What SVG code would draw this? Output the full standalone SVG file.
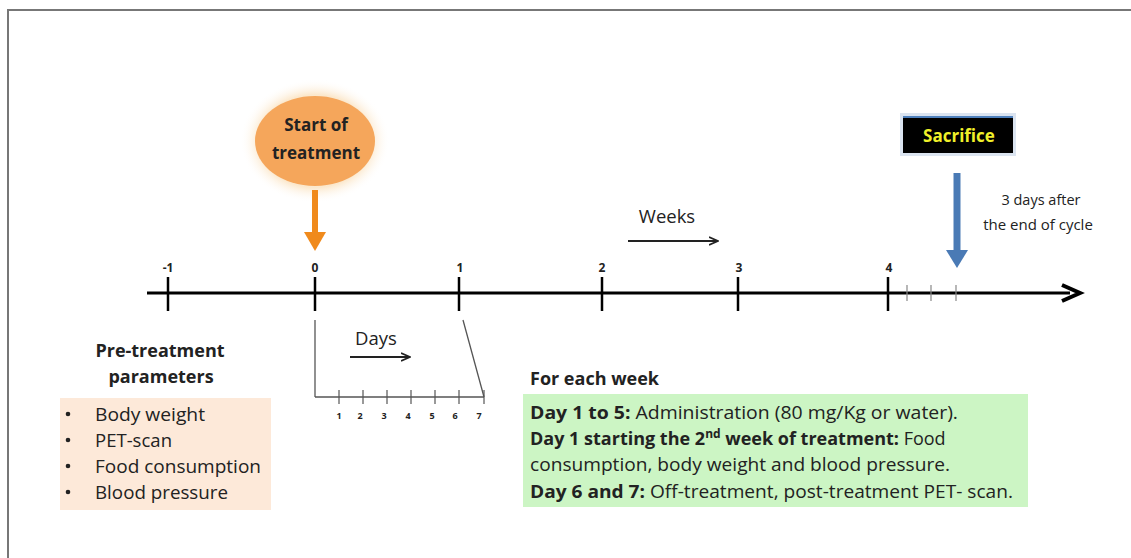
<svg xmlns="http://www.w3.org/2000/svg" width="1131" height="558" viewBox="0 0 1131 558">
<defs>
<style>
text{font-family:"Open Sans","Liberation Sans",sans-serif;fill:#222}
.b{font-weight:bold}
.n{font-size:12px;font-weight:bold}
.d{font-size:9px;font-weight:bold}
.ax{stroke:#000;stroke-width:3;fill:none}
.tk{stroke:#000;stroke-width:2.5}
.st{stroke:#888;stroke-width:1.2}
.thin{stroke:#555;stroke-width:1.3;fill:none}
</style>
<radialGradient id="glow" cx="0.5" cy="0.5" r="0.5">
<stop offset="0.75" stop-color="#fbe6c8" stop-opacity="0.9"/>
<stop offset="1" stop-color="#ffffff" stop-opacity="0"/>
</radialGradient>
<marker id="ah" markerWidth="10" markerHeight="10" refX="8" refY="5" orient="auto" markerUnits="userSpaceOnUse">
<path d="M0,1 L9,5 L0,9" fill="none" stroke="#222" stroke-width="1.8"/>
</marker>
</defs>
<rect width="1131" height="558" fill="#fff"/>
<path d="M8,558 V10 H1131" fill="none" stroke="#777" stroke-width="2"/>

<g id="start-of-treatment">
<ellipse cx="315" cy="141" rx="75" ry="62" fill="url(#glow)"/>
<ellipse cx="315" cy="141" rx="60" ry="45" fill="#f5a65b"/>
<text x="316" y="131" text-anchor="middle" class="b" font-size="17">Start of</text>
<text x="316" y="159" text-anchor="middle" class="b" font-size="17">treatment</text>
</g>

<g id="sacrifice">
<rect x="900" y="113" width="116" height="43" fill="#dbe4f0"/>
<rect x="903" y="117" width="110" height="36" fill="#000"/>
<line x1="903" y1="117" x2="1013" y2="117" stroke="#4f81bd" stroke-width="2"/>
<text x="959" y="142" text-anchor="middle" class="b" font-size="17" style="fill:#f0f02a">Sacrifice</text>
</g>

<g id="sacrifice-note">
<text x="1041" y="205" text-anchor="middle" font-size="14.5">3 days after</text>
<text x="1038" y="230" text-anchor="middle" font-size="15">the end of cycle</text>
</g>

<g id="timeline">
<line x1="147" y1="293" x2="1070" y2="293" class="ax"/>
<path d="M1062,285 L1080,293 L1062,301" fill="none" stroke="#000" stroke-width="4" stroke-linejoin="miter"/>
<line x1="168" y1="277" x2="168" y2="311" class="tk"/>
<line x1="315" y1="277" x2="315" y2="311" class="tk"/>
<line x1="459" y1="277" x2="459" y2="311" class="tk"/>
<line x1="602" y1="277" x2="602" y2="311" class="tk"/>
<line x1="738" y1="277" x2="738" y2="311" class="tk"/>
<line x1="888" y1="277" x2="888" y2="311" class="tk"/>
<line x1="907" y1="285" x2="907" y2="301" class="st"/>
<line x1="931" y1="285" x2="931" y2="301" class="st"/>
<line x1="956" y1="285" x2="956" y2="301" class="st"/>
<text x="168" y="272" text-anchor="middle" class="n">-1</text>
<text x="315" y="272" text-anchor="middle" class="n">0</text>
<text x="460" y="272" text-anchor="middle" class="n">1</text>
<text x="602" y="272" text-anchor="middle" class="n">2</text>
<text x="739" y="272" text-anchor="middle" class="n">3</text>
<text x="889" y="272" text-anchor="middle" class="n">4</text>
<text x="667" y="223" text-anchor="middle" font-size="18.5">Weeks</text>
</g>

<g id="days-detail">
<line x1="315" y1="320" x2="315" y2="397" class="thin"/>
<line x1="463" y1="320" x2="484" y2="397" class="thin"/>
<line x1="315" y1="397" x2="484" y2="397" class="thin"/>
<g stroke="#555" stroke-width="1.2">
<line x1="339" y1="390" x2="339" y2="404"/>
<line x1="363" y1="390" x2="363" y2="404"/>
<line x1="387" y1="390" x2="387" y2="404"/>
<line x1="411" y1="390" x2="411" y2="404"/>
<line x1="435" y1="390" x2="435" y2="404"/>
<line x1="459" y1="390" x2="459" y2="404"/>
<line x1="484" y1="390" x2="484" y2="404"/>
</g>
<text x="339" y="419" text-anchor="middle" class="d">1</text>
<text x="360" y="419" text-anchor="middle" class="d">2</text>
<text x="384" y="419" text-anchor="middle" class="d">3</text>
<text x="408" y="419" text-anchor="middle" class="d">4</text>
<text x="432" y="419" text-anchor="middle" class="d">5</text>
<text x="455" y="419" text-anchor="middle" class="d">6</text>
<text x="479" y="419" text-anchor="middle" class="d">7</text>
<text x="376" y="345" text-anchor="middle" font-size="18.5">Days</text>
</g>

<g id="pre-treatment">
<text x="160" y="357" text-anchor="middle" class="b" font-size="18">Pre-treatment</text>
<text x="161" y="383" text-anchor="middle" class="b" font-size="18">parameters</text>
<rect x="60" y="398" width="211" height="112" fill="#fde9d9"/>
<g font-size="18">
<circle cx="68" cy="414" r="2.3" fill="#222"/><text x="95" y="421" textLength="110" lengthAdjust="spacingAndGlyphs">Body weight</text>
<circle cx="68" cy="440" r="2.3" fill="#222"/><text x="95" y="447" textLength="77" lengthAdjust="spacingAndGlyphs">PET-scan</text>
<circle cx="68" cy="466" r="2.3" fill="#222"/><text x="95" y="473" textLength="166" lengthAdjust="spacingAndGlyphs">Food consumption</text>
<circle cx="68" cy="492" r="2.3" fill="#222"/><text x="95" y="499" textLength="133" lengthAdjust="spacingAndGlyphs">Blood pressure</text>
</g>
</g>

<g id="each-week">
<text x="530" y="385" class="b" font-size="18">For each week</text>
<rect x="523" y="394" width="505" height="113" fill="#ccf5c4"/>
<g font-size="18">
<text x="530" y="419" textLength="428" lengthAdjust="spacingAndGlyphs"><tspan class="b">Day 1 to 5:</tspan>  Administration (80 mg/Kg or water).</text>
<text x="530" y="445"><tspan class="b">Day 1 starting the 2<tspan font-size="12" dy="-7">nd</tspan><tspan dy="7"> week of treatment:</tspan></tspan> Food</text>
<text x="530" y="471" textLength="420" lengthAdjust="spacingAndGlyphs">consumption, body weight and blood pressure.</text>
<text x="530" y="498" textLength="483" lengthAdjust="spacingAndGlyphs"><tspan class="b">Day 6 and 7:</tspan> Off-treatment, post-treatment PET- scan.</text>
</g>
</g>

<g id="connectors">
<line x1="315" y1="190" x2="315" y2="236" stroke="#f08a1c" stroke-width="6"/>
<path d="M304,232 L315,251 L326,232 Z" fill="#f08a1c"/>
<line x1="957" y1="173" x2="957" y2="252" stroke="#4a7ab5" stroke-width="7"/>
<path d="M946,250 L957,268 L968,250 Z" fill="#4a7ab5"/>
<line x1="628" y1="241" x2="717" y2="241" stroke="#222" stroke-width="2" marker-end="url(#ah)"/>
<line x1="350" y1="357" x2="409" y2="357" stroke="#222" stroke-width="2" marker-end="url(#ah)"/>
</g>
</svg>
